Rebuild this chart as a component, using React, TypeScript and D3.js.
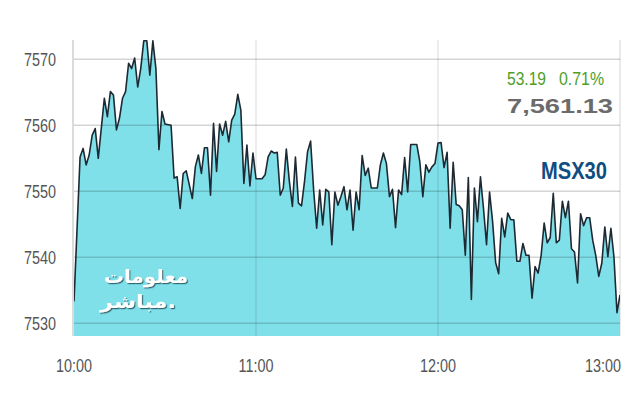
import React from 'react';
import * as d3 from 'd3';

const startTime = '10:00';
const endMinute = 180;
const tickLabels = ['10:00', '11:00', '12:00', '13:00'];
const tickMinutes = [0, 60, 120, 180];
const yTicks = [7530, 7540, 7550, 7560, 7570];
const changeValue = '53.19';
const changePct = '0.71%';
const lastValue = '7,561.13';
const indexName = 'MSX30';
const logoLines = ['معلومات', 'مباشر.'];

// [minutes after 10:00, index value]
const quotes: [number, number][] = [
  [0, 7533.3], [2, 7555.2], [3, 7556.5], [4, 7554.0], [5, 7555.5], [6, 7558.5], [7, 7559.5], [8, 7555.0],
  [10, 7564.1], [11, 7561.3], [12, 7565.1], [13, 7564.6], [14, 7559.3], [15, 7561.1], [16, 7564.1], [17, 7565.1],
  [18, 7569.4], [19, 7568.6], [20, 7570.2], [21, 7565.8], [22, 7568.6], [23, 7572.8], [24, 7572.8], [25, 7567.6],
  [26, 7572.8], [27, 7568.6], [28, 7556.3], [29, 7562.1], [30, 7560.2], [32, 7560.0], [33, 7552.0], [34, 7552.2],
  [35, 7547.4], [36, 7552.7], [37, 7553.1], [38, 7551.0], [39, 7548.9], [40, 7553.7], [41, 7555.5], [42, 7552.7],
  [43, 7556.6], [44, 7556.6], [45, 7549.4], [46, 7560.3], [47, 7553.0], [48, 7560.2], [49, 7558.5], [50, 7560.6],
  [51, 7557.5], [52, 7560.8], [53, 7561.7], [54, 7564.7], [55, 7562.3], [56, 7551.2], [57, 7557.0], [58, 7550.8],
  [59, 7555.8], [60, 7551.9], [62, 7551.9], [63, 7552.5], [64, 7555.2], [65, 7556.1], [66, 7555.8], [67, 7555.9],
  [68, 7549.4], [69, 7550.5], [70, 7556.4], [71, 7551.5], [72, 7547.7], [73, 7555.2], [74, 7548.2], [75, 7547.8],
  [76, 7551.5], [77, 7556.0], [78, 7557.6], [79, 7550.2], [80, 7544.4], [81, 7550.2], [82, 7544.9], [83, 7550.3],
  [84, 7549.9], [85, 7541.9], [86, 7549.9], [87, 7547.9], [88, 7549.2], [89, 7550.7], [90, 7547.2], [91, 7550.2],
  [92, 7544.1], [93, 7549.9], [94, 7547.2], [95, 7555.4], [96, 7552.4], [97, 7553.5], [98, 7550.5], [100, 7550.5],
  [101, 7554.0], [102, 7555.8], [103, 7554.2], [104, 7549.2], [105, 7550.3], [106, 7544.5], [107, 7550.2], [108, 7549.5],
  [109, 7555.1], [110, 7549.9], [111, 7557.1], [113, 7557.1], [114, 7554.5], [115, 7549.2], [116, 7554.0], [117, 7552.9],
  [118, 7553.7], [119, 7554.2], [120, 7557.3], [121, 7557.4], [122, 7553.6], [123, 7555.9], [124, 7544.4], [125, 7554.4],
  [126, 7548.0], [127, 7547.8], [128, 7547.2], [129, 7540.3], [130, 7552.1], [131, 7533.6], [132, 7550.5], [133, 7545.4],
  [134, 7552.2], [135, 7547.4], [136, 7541.9], [137, 7549.9], [138, 7545.4], [139, 7539.2], [140, 7537.5], [141, 7545.9],
  [142, 7543.1], [143, 7546.7], [144, 7545.7], [145, 7545.7], [146, 7539.4], [147, 7539.4], [148, 7542.1], [149, 7540.3],
  [150, 7540.3], [151, 7533.8], [152, 7538.6], [153, 7537.6], [154, 7540.3], [155, 7545.2], [156, 7542.2], [157, 7543.0],
  [158, 7549.7], [159, 7542.2], [160, 7542.6], [161, 7548.5], [162, 7546.0], [163, 7548.5], [164, 7541.3], [165, 7540.8],
  [166, 7536.1], [167, 7546.6], [168, 7544.8], [169, 7546.0], [170, 7546.0], [171, 7542.6], [172, 7540.3], [173, 7537.1],
  [174, 7539.1], [175, 7544.6], [176, 7540.1], [177, 7544.4], [178, 7540.1], [179, 7531.6], [180, 7534.3],
];

export default function App() {
  const W = 640;
  const H = 400;
  const left = 74;
  const right = 620;
  const top = 40;
  const bottom = 336;

  const parse = d3.timeParse('%H:%M');
  const t0 = parse(startTime) as Date;
  const toDate = (m: number) => d3.timeMinute.offset(t0, m);

  const x = d3.scaleTime().domain([t0, toDate(endMinute)]).range([left, right]);
  const y = d3.scaleLinear().domain([7530, 7570]).range([323.3, 59.3]);

  const area = d3
    .area<[number, number]>()
    .x((d) => x(toDate(d[0])))
    .y0(bottom)
    .y1((d) => y(d[1]));
  const line = d3
    .line<[number, number]>()
    .x((d) => x(toDate(d[0])))
    .y((d) => y(d[1]));

  const labelFont = '"Liberation Sans", Arial, sans-serif';
  const narrow = 0.8;

  return (
    <svg
      width={W}
      height={H}
      style={{ position: 'absolute', left: 0, top: 0, background: '#fff' }}
      xmlns="http://www.w3.org/2000/svg"
    >
      <defs>
        <clipPath id="plot">
          <rect x={left} y={top} width={right - left} height={bottom - top} />
        </clipPath>
        <filter id="logoShadow" x="-10%" y="-20%" width="130%" height="150%">
          <feDropShadow dx="1.2" dy="1.2" stdDeviation="0.6" floodColor="#1f3f48" floodOpacity="0.75" />
        </filter>
      </defs>

      {/* frame */}
      <line x1={left - 1} x2={left - 1} y1={top} y2={bottom} stroke="#cfcfcf" strokeWidth={1.5} />
      <line x1={right} x2={right} y1={top} y2={bottom} stroke="#e2e2e2" strokeWidth={1.5} />

      <g clipPath="url(#plot)">
        <path d={area(quotes) || ''} fill="#80e0ea" />
      </g>

      {/* grid */}
      {yTicks.map((v) => (
        <line key={v} x1={left} x2={right} y1={y(v)} y2={y(v)} stroke="rgba(0,0,0,0.17)" strokeWidth={1.6} />
      ))}
      {tickMinutes.slice(1, -1).map((m) => (
        <line
          key={m}
          x1={x(toDate(m))}
          x2={x(toDate(m))}
          y1={top}
          y2={bottom}
          stroke="rgba(0,0,0,0.1)"
          strokeWidth={1.4}
        />
      ))}

      <g clipPath="url(#plot)">
        <path d={line(quotes) || ''} fill="none" stroke="#1d2a33" strokeWidth={1.6} strokeLinejoin="round" />
      </g>

      {/* y labels */}
      {yTicks.map((v) => (
        <g key={v} transform={`translate(56,${y(v)}) scale(${narrow},1)`}>
          <text dy="0.35em" textAnchor="end" fontFamily={labelFont} fontSize={18} fill="#555">
            {v}
          </text>
        </g>
      ))}

      {/* x labels */}
      {tickLabels.map((t, i) => {
        const last = i === tickLabels.length - 1;
        const tx = last ? right + 1 : x(toDate(tickMinutes[i]));
        return (
          <g key={t} transform={`translate(${tx},372) scale(${narrow},1)`}>
            <text textAnchor={last ? 'end' : 'middle'} fontFamily={labelFont} fontSize={18} fill="#555">
              {t}
            </text>
          </g>
        );
      })}

      {/* annotations */}
      <text
        x={507}
        y={85}
        fontFamily={labelFont}
        fontSize={18}
        fill="#4e9e1f"
        textLength={39}
        lengthAdjust="spacingAndGlyphs"
      >
        {changeValue}
      </text>
      <text
        x={559}
        y={85}
        fontFamily={labelFont}
        fontSize={18}
        fill="#4e9e1f"
        textLength={45}
        lengthAdjust="spacingAndGlyphs"
      >
        {changePct}
      </text>
      <text
        x={507}
        y={113}
        fontFamily={labelFont}
        fontWeight="bold"
        fontSize={20}
        fill="#6b6b6b"
        textLength={106}
        lengthAdjust="spacingAndGlyphs"
      >
        {lastValue}
      </text>
      <text
        x={541}
        y={179}
        fontFamily={labelFont}
        fontWeight="bold"
        fontSize={23}
        fill="#0f4d82"
        textLength={66}
        lengthAdjust="spacingAndGlyphs"
      >
        {indexName}
      </text>

      {/* logo */}
      <g fontFamily='"DejaVu Sans", sans-serif' fontWeight="bold" fontSize={19} fill="#ffffff" filter="url(#logoShadow)">
        <text x={146} y={283} textAnchor="middle" textLength={84} lengthAdjust="spacingAndGlyphs">
          {logoLines[0]}
        </text>
        <text x={138} y={308} textAnchor="middle" textLength={76} lengthAdjust="spacingAndGlyphs">
          {logoLines[1]}
        </text>
      </g>
    </svg>
  );
}
